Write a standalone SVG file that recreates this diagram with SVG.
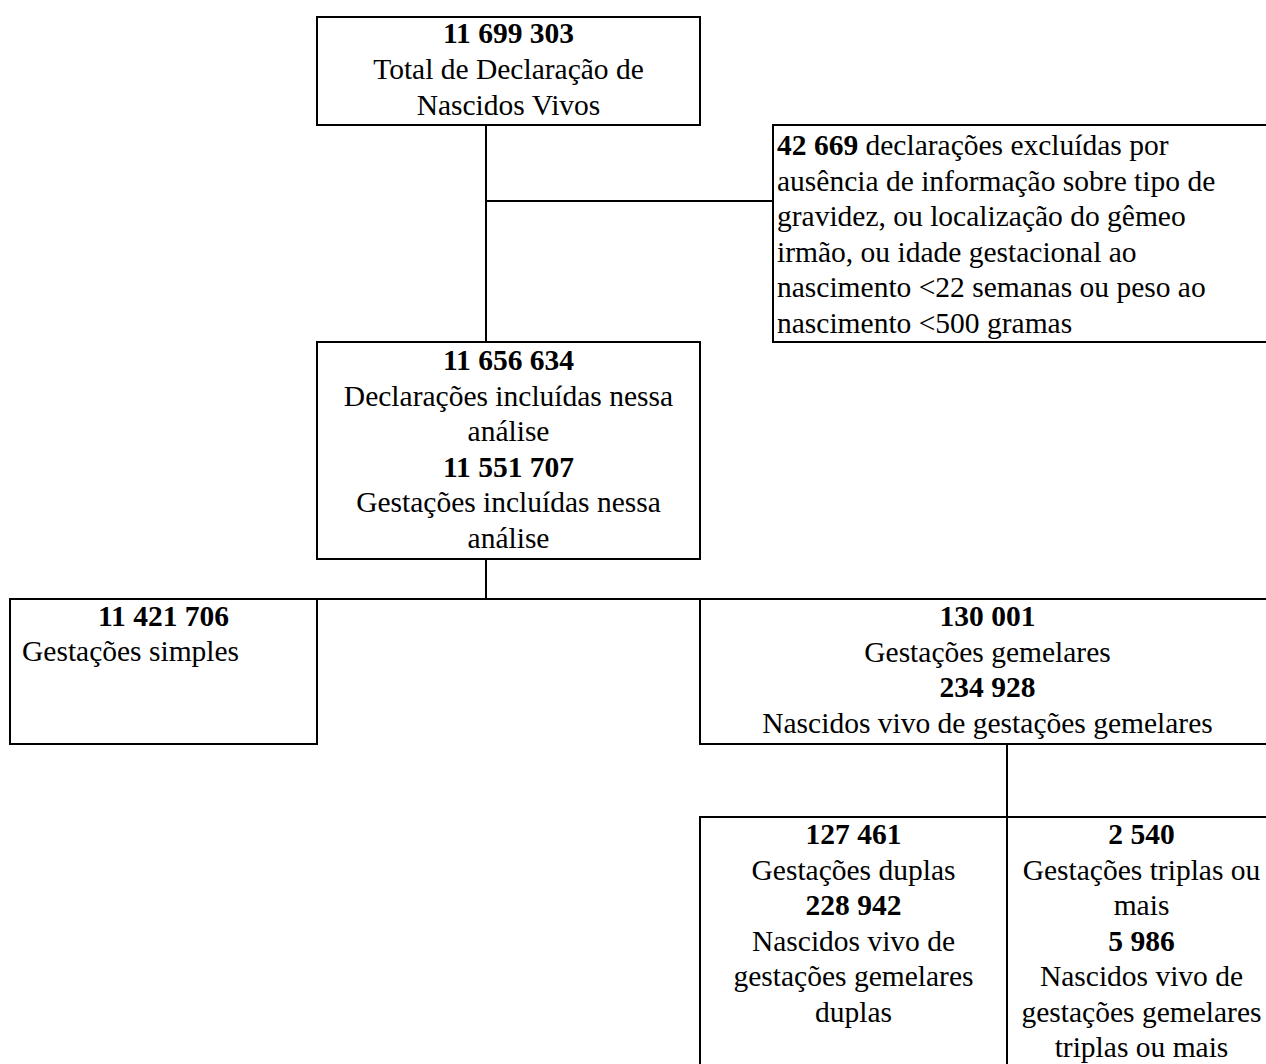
<svg xmlns="http://www.w3.org/2000/svg" width="1266" height="1064" viewBox="0 0 1266 1064">
  <style>
    .box { fill: #ffffff; stroke: #000000; stroke-width: 2; }
    .link { fill: none; stroke: #000000; stroke-width: 2; }
    text { font-family: "Liberation Serif", "Times New Roman", serif; font-size: 29.5px; fill: #000000; }
    .c { text-anchor: middle; }
    .b { font-weight: bold; }
  </style>
  <rect x="0" y="0" width="1266" height="1064" fill="#ffffff"/>

  <!-- connectors -->
  <g id="connectors">
    <line class="link" x1="486" y1="125" x2="486" y2="342"/>
    <line class="link" x1="486" y1="201" x2="773" y2="201"/>
    <line class="link" x1="486" y1="559" x2="486" y2="599"/>
    <line class="link" x1="317" y1="599" x2="700" y2="599"/>
    <line class="link" x1="1007" y1="744" x2="1007" y2="817"/>
  </g>

  <!-- total declarations -->
  <g id="total">
    <rect class="box" x="317" y="17" width="383" height="108"/>
    <text class="c b" x="508.5" y="43">11 699 303</text>
    <text class="c" x="508.5" y="79">Total de Declaração de</text>
    <text class="c" x="508.5" y="115">Nascidos Vivos</text>
  </g>

  <!-- excluded declarations -->
  <g id="excluidas">
    <rect class="box" x="773" y="125" width="502" height="217"/>
    <text x="777" y="155"><tspan class="b">42 669</tspan> declarações excluídas por</text>
    <text x="777" y="190.5">ausência de informação sobre tipo de</text>
    <text x="777" y="226">gravidez, ou localização do gêmeo</text>
    <text x="777" y="261.5">irmão, ou idade gestacional ao</text>
    <text x="777" y="297">nascimento &lt;22 semanas ou peso ao</text>
    <text x="777" y="332.5">nascimento &lt;500 gramas</text>
  </g>

  <!-- included in analysis -->
  <g id="incluidas">
    <rect class="box" x="317" y="342" width="383" height="217"/>
    <text class="c b" x="508.5" y="370">11 656 634</text>
    <text class="c" x="508.5" y="405.6">Declarações incluídas nessa</text>
    <text class="c" x="508.5" y="441.2">análise</text>
    <text class="c b" x="508.5" y="476.8">11 551 707</text>
    <text class="c" x="508.5" y="512.4">Gestações incluídas nessa</text>
    <text class="c" x="508.5" y="548">análise</text>
  </g>

  <!-- single pregnancies -->
  <g id="simples">
    <rect class="box" x="10" y="599" width="307" height="145"/>
    <text class="c b" x="163.5" y="626">11 421 706</text>
    <text x="22" y="661">Gestações simples</text>
  </g>

  <!-- twin pregnancies -->
  <g id="gemelares">
    <rect class="box" x="700" y="599" width="575" height="145"/>
    <text class="c b" x="987.5" y="626">130 001</text>
    <text class="c" x="987.5" y="661.6">Gestações gemelares</text>
    <text class="c b" x="987.5" y="697.2">234 928</text>
    <text class="c" x="987.5" y="732.8">Nascidos vivo de gestações gemelares</text>
  </g>

  <!-- double pregnancies -->
  <g id="duplas">
    <rect class="box" x="700" y="817" width="307" height="260"/>
    <text class="c b" x="853.5" y="844">127 461</text>
    <text class="c" x="853.5" y="879.6">Gestações duplas</text>
    <text class="c b" x="853.5" y="915.2">228 942</text>
    <text class="c" x="853.5" y="950.8">Nascidos vivo de</text>
    <text class="c" x="853.5" y="986.4">gestações gemelares</text>
    <text class="c" x="853.5" y="1022">duplas</text>
  </g>

  <!-- triple or higher pregnancies -->
  <g id="triplas">
    <rect class="box" x="1007" y="817" width="268" height="260"/>
    <text class="c b" x="1141.5" y="844">2 540</text>
    <text class="c" x="1141.5" y="879.6">Gestações triplas ou</text>
    <text class="c" x="1141.5" y="915.2">mais</text>
    <text class="c b" x="1141.5" y="950.8">5 986</text>
    <text class="c" x="1141.5" y="986.4">Nascidos vivo de</text>
    <text class="c" x="1141.5" y="1022">gestações gemelares</text>
    <text class="c" x="1141.5" y="1057">triplas ou mais</text>
  </g>
</svg>
